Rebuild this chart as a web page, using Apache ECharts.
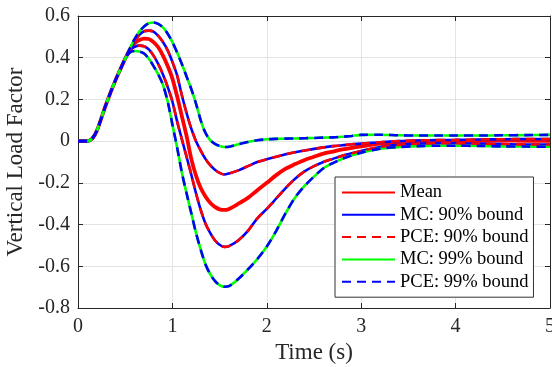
<!DOCTYPE html>
<html>
<head>
<meta charset="utf-8">
<script src="https://cdn.jsdelivr.net/npm/echarts@6/dist/echarts.min.js"></script>
<style>html,body{margin:0;padding:0;background:#fff}#c{width:552px;height:367px}</style>
</head>
<body>
<div id="c"></div>
<script>
const time = [0, 0.1, 0.15, 0.2, 0.3, 0.4, 0.5, 0.55, 0.6, 0.65, 0.7, 0.75, 0.8, 0.85, 0.9, 0.95, 1.0, 1.05, 1.1, 1.15, 1.2, 1.25, 1.3, 1.35, 1.4, 1.45, 1.5, 1.55, 1.6, 1.7, 1.8, 1.9, 2.0, 2.1, 2.2, 2.3, 2.4, 2.5, 2.6, 2.7, 2.8, 2.9, 3.0, 3.2, 3.4, 3.6, 3.8, 4.0, 4.25, 4.5, 4.75, 5.0];
const meanVals = [0, 0, 0.012, 0.05, 0.18, 0.295, 0.395, 0.44, 0.47, 0.485, 0.492, 0.49, 0.475, 0.45, 0.41, 0.36, 0.30, 0.215, 0.12, 0.025, -0.085, -0.165, -0.225, -0.265, -0.295, -0.315, -0.327, -0.33, -0.325, -0.30, -0.272, -0.235, -0.2, -0.163, -0.132, -0.11, -0.09, -0.075, -0.06, -0.05, -0.04, -0.032, -0.025, -0.012, -0.005, 0, 0, 0, 0.002, 0.003, 0.002, 0.002];
const upper90 = [0, 0, 0.012, 0.05, 0.18, 0.295, 0.395, 0.44, 0.48, 0.51, 0.527, 0.53, 0.525, 0.505, 0.475, 0.435, 0.38, 0.315, 0.22, 0.135, 0.06, 0.0, -0.045, -0.085, -0.115, -0.137, -0.152, -0.16, -0.155, -0.14, -0.12, -0.1, -0.087, -0.075, -0.063, -0.053, -0.045, -0.037, -0.03, -0.024, -0.02, -0.015, -0.012, -0.005, 0.0, 0.003, 0.005, 0.006, 0.008, 0.009, 0.01, 0.01];
const lower90 = [0, 0, 0.012, 0.05, 0.18, 0.295, 0.395, 0.435, 0.452, 0.458, 0.455, 0.44, 0.41, 0.37, 0.32, 0.26, 0.19, 0.095, 0.01, -0.075, -0.16, -0.25, -0.33, -0.395, -0.44, -0.475, -0.497, -0.507, -0.503, -0.475, -0.43, -0.37, -0.325, -0.275, -0.225, -0.18, -0.145, -0.12, -0.1, -0.085, -0.07, -0.058, -0.047, -0.028, -0.018, -0.012, -0.01, -0.01, -0.012, -0.014, -0.016, -0.016];
const upper99 = [0, 0, 0.012, 0.05, 0.18, 0.295, 0.395, 0.445, 0.49, 0.525, 0.55, 0.565, 0.569, 0.562, 0.545, 0.515, 0.475, 0.425, 0.37, 0.31, 0.25, 0.18, 0.10, 0.04, 0.005, -0.013, -0.023, -0.028, -0.027, -0.015, -0.004, 0.004, 0.009, 0.011, 0.012, 0.013, 0.014, 0.015, 0.017, 0.018, 0.021, 0.025, 0.03, 0.031, 0.028, 0.027, 0.027, 0.027, 0.027, 0.028, 0.029, 0.03];
const lower99 = [0, 0, 0.012, 0.05, 0.18, 0.295, 0.395, 0.425, 0.432, 0.43, 0.42, 0.395, 0.36, 0.32, 0.27, 0.19, 0.08, -0.03, -0.15, -0.25, -0.345, -0.44, -0.52, -0.59, -0.637, -0.67, -0.69, -0.698, -0.695, -0.66, -0.615, -0.565, -0.505, -0.43, -0.345, -0.27, -0.215, -0.17, -0.13, -0.105, -0.085, -0.068, -0.055, -0.036, -0.028, -0.024, -0.022, -0.022, -0.023, -0.025, -0.026, -0.027];
const xTicks = [0, 1, 2, 3, 4, 5];
const yTicks = [-0.8, -0.6, -0.4, -0.2, 0, 0.2, 0.4, 0.6];
const names = ['Mean', 'MC: 90% bound', 'PCE: 90% bound', 'MC: 99% bound', 'PCE: 99% bound'];

const pair = arr => time.map((t, i) => [t, arr[i]]);
const FONT = "'Liberation Serif', 'Times New Roman', serif";
const AX = '#262626';
const dash = [9, 6];

function line(name, arr, color, width, type, z) {
  return {
    name: name, type: 'line', data: pair(arr), symbol: 'none', smooth: 0.3,
    lineStyle: { color: color, width: width, type: type }, itemStyle: { color: color },
    z: z, animation: false, silent: true
  };
}

const series = [
  line(names[0], meanVals, '#ff0000', 3.8, 'solid', 2),
  line(names[1], upper90, '#0000ff', 2.6, 'solid', 3),
  line(names[1], lower90, '#0000ff', 2.6, 'solid', 3),
  line(names[2], upper90, '#ff0000', 2.6, dash, 4),
  line(names[2], lower90, '#ff0000', 2.6, dash, 4),
  line(names[3], upper99, '#00ff00', 2.6, 'solid', 3),
  line(names[3], lower99, '#00ff00', 2.6, 'solid', 3),
  line(names[4], upper99, '#0000ff', 2.6, dash, 4),
  line(names[4], lower99, '#0000ff', 2.6, dash, 4)
];

const xMin = xTicks[0], xMax = xTicks[xTicks.length - 1];
const yMin = yTicks[0], yMax = yTicks[yTicks.length - 1];

const chart = echarts.init(document.getElementById('c'), null, { renderer: 'canvas' });
chart.setOption({
  animation: false,
  backgroundColor: '#ffffff',
  grid: { left: 78, right: 2, top: 16, bottom: 59, containLabel: false, outerBoundsMode: 'none' },
  xAxis: [{
    type: 'value', min: xMin, max: xMax, interval: 1, position: 'bottom',
    name: 'Time (s)', nameLocation: 'middle', nameGap: 33,
    nameTextStyle: { fontFamily: FONT, fontSize: 23, color: AX },
    axisLine: { show: true, onZero: false, lineStyle: { color: AX, width: 1 } },
    axisTick: { show: true, inside: true, length: 5, lineStyle: { color: AX } },
    axisLabel: { fontFamily: FONT, fontSize: 20, color: AX, margin: 9 },
    splitLine: { show: true, lineStyle: { color: '#e3e3e3', width: 1 } }
  }, {
    type: 'value', min: xMin, max: xMax, interval: 1, position: 'top',
    axisLine: { show: true, onZero: false, lineStyle: { color: AX, width: 1 } },
    axisTick: { show: true, inside: true, length: 5, lineStyle: { color: AX } },
    axisLabel: { show: false }, splitLine: { show: false }
  }],
  yAxis: [{
    type: 'value', min: yMin, max: yMax, interval: 0.2, position: 'left',
    name: 'Vertical Load Factor', nameLocation: 'middle', nameGap: 47, nameRotate: 90,
    nameTextStyle: { fontFamily: FONT, fontSize: 23, color: AX },
    axisLine: { show: true, onZero: false, lineStyle: { color: AX, width: 1 } },
    axisTick: { show: true, inside: true, length: 5, lineStyle: { color: AX } },
    axisLabel: { fontFamily: FONT, fontSize: 20, color: AX, margin: 8,
      formatter: v => (Math.abs(v) < 1e-9 ? '0' : v.toFixed(1)) },
    splitLine: { show: true, lineStyle: { color: '#e3e3e3', width: 1 } }
  }, {
    type: 'value', min: yMin, max: yMax, interval: 0.2, position: 'right',
    axisLine: { show: true, onZero: false, lineStyle: { color: AX, width: 1 } },
    axisTick: { show: true, inside: true, length: 5, lineStyle: { color: AX } },
    axisLabel: { show: false }, splitLine: { show: false }
  }],
  legend: {
    data: names, orient: 'vertical', left: 335, top: 177,
    backgroundColor: '#ffffff', borderColor: '#333333', borderWidth: 1,
    padding: [6, 5, 6, 6], itemWidth: 53, itemHeight: 14, itemGap: 3.3,
    itemStyle: { color: 'rgba(0,0,0,0)', borderWidth: 0, borderColor: 'rgba(0,0,0,0)', opacity: 0 },
    textStyle: { fontFamily: FONT, fontSize: 18.5, lineHeight: 18, color: '#000' },
    selectedMode: false
  },
  series: series
});
</script>
</body>
</html>
